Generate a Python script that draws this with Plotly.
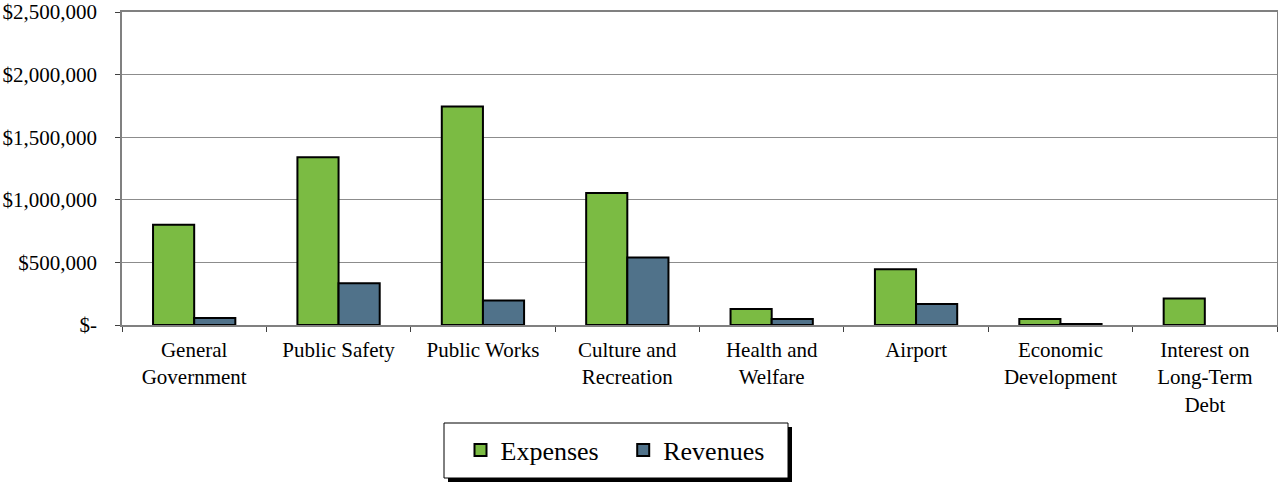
import plotly.graph_objects as go

categories = ["General<br>Government", "Public Safety", "Public Works", "Culture and<br>Recreation",
              "Health and<br>Welfare", "Airport", "Economic<br>Development", "Interest on<br>Long-Term<br>Debt"]
expenses = [800000, 1340000, 1745000, 1055000, 127000, 445000, 48000, 212000]
revenues = [55000, 333000, 195000, 540000, 48000, 167000, 8000, 0]
ytick_vals = [0, 500000, 1000000, 1500000, 2000000, 2500000]
ytick_text = ["$-", "$500,000", "$1,000,000", "$1,500,000", "$2,000,000", "$2,500,000"]

GREEN = "#7BBB43"
BLUE = "#50728A"
FONT = "Liberation Serif"

rev_line_w = [2 if v > 0 else 0 for v in revenues]

fig = go.Figure()
fig.add_trace(go.Bar(name="Expenses\u00a0\u00a0\u00a0", x=categories, y=expenses,
                     marker=dict(color=GREEN, line=dict(color="black", width=2))))
fig.add_trace(go.Bar(name="Revenues", x=categories, y=revenues,
                     marker=dict(color=BLUE, line=dict(color="black", width=rev_line_w))))

L, R, T, B = 122, 1, 12, 158
W, H = 1278, 483
pw = W - L - R
ph = H - T - B

def px(x):
    return (x - L) / pw

def py(y):
    return (H - B - y) / ph

shapes = [
    dict(type="rect", xref="paper", yref="paper", x0=px(448), x1=px(792), y0=py(427), y1=py(482),
         fillcolor="black", line=dict(width=0), layer="below"),
    dict(type="rect", xref="paper", yref="paper", x0=px(444), x1=px(788), y0=py(423), y1=py(478),
         fillcolor="white", line=dict(color="black", width=1), layer="below"),
]

fig.update_layout(
    width=W, height=H,
    margin=dict(l=L, r=R, t=T, b=B, autoexpand=False),
    paper_bgcolor="white", plot_bgcolor="white",
    font=dict(family=FONT, size=21, color="black"),
    barmode="group", bargap=0.43, bargroupgap=0,
    showlegend=True,
    legend=dict(orientation="h", x=px(615), xanchor="center", y=py(450), yanchor="middle",
                font=dict(family=FONT, size=26, color="black"), bgcolor="rgba(0,0,0,0)",
                borderwidth=0, itemwidth=30, traceorder="normal"),
    shapes=shapes,
    xaxis=dict(showline=True, linecolor="#808080", linewidth=1.5, mirror=True, automargin=False,
               ticks="outside", tickson="boundaries", ticklen=5, tickcolor="#404040",
               ticklabelstandoff=5,
               tickfont=dict(family=FONT, size=21, color="black"), showgrid=False),
    yaxis=dict(range=[0, 2500000], tickvals=ytick_vals, ticktext=ytick_text, automargin=False,
               showline=True, linecolor="#808080", linewidth=1.5, mirror=True,
               ticks="outside", ticklen=5, tickcolor="#404040", ticklabelstandoff=14,
               ticklabeloverflow="allow",
               gridcolor="#8c8c8c", gridwidth=1, zeroline=False,
               tickfont=dict(family=FONT, size=21, color="black")),
)

fig.write_html("out.html", config={"displayModeBar": False},
               post_script="document.body.style.margin='0';document.body.style.overflow='hidden';window.dispatchEvent(new Event('resize'));")
